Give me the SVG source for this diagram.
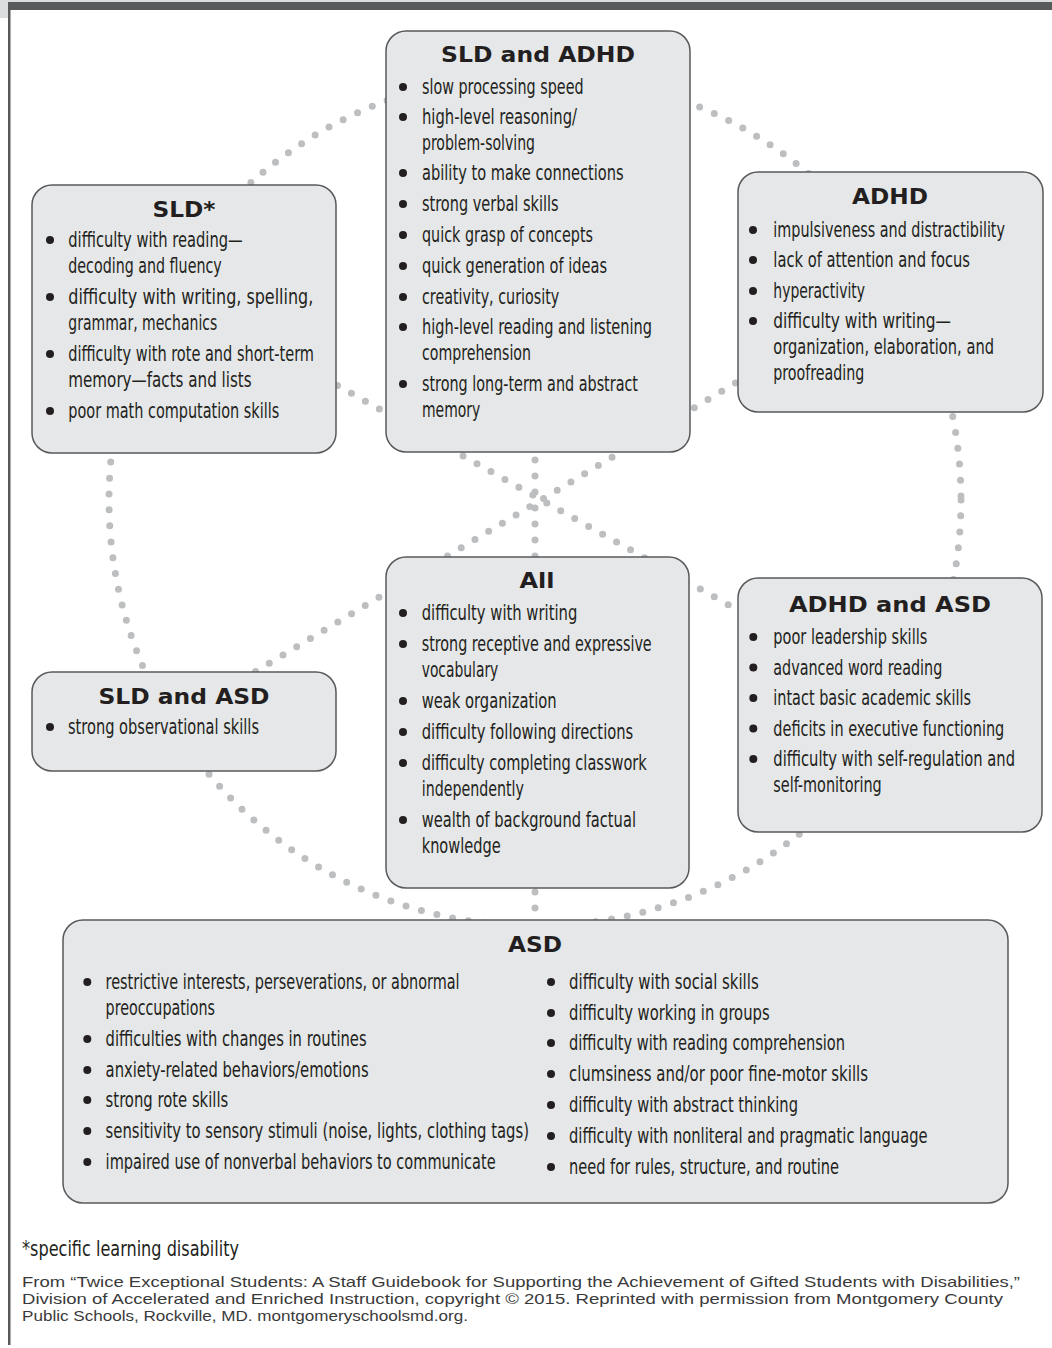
<svg xmlns="http://www.w3.org/2000/svg" width="1052" height="1348" viewBox="0 0 1052 1348">
<style>
.box{fill:#e6e7e8;stroke:#58595b;stroke-width:1.5}
.t{font-family:"DejaVu Sans","Liberation Sans",sans-serif;font-weight:bold;font-size:22px;fill:#231f20;text-anchor:middle}
.b{font-family:"Liberation Sans Narrow","DejaVu Sans Condensed","Liberation Sans",sans-serif;font-size:21px;fill:#231f20}
.bl{fill:#231f20}
.conn{fill:none;stroke:#bcbec0;stroke-width:7;stroke-linecap:round;stroke-dasharray:0 16}
.fn{font-family:"Liberation Sans","DejaVu Sans",sans-serif;font-size:15px;fill:#3a3a3a}
</style>
<rect width="1052" height="1348" fill="#ffffff"/>
<g id="frame">
<rect x="0" y="0" width="1052" height="2" fill="#dcdddf"/>
<rect x="0" y="0" width="8" height="18" fill="#dcdddf"/>
<rect x="8" y="2" width="1044" height="8" fill="#58595b"/>
<rect x="8" y="10" width="2.5" height="1335" fill="#58595b"/>
</g>
<g id="connectors">
<circle class="conn" cx="535" cy="500" r="426"/>
<path class="conn" d="M535 60 V940"/>
<path class="conn" d="M170 291.6 L900 701"/>
<path class="conn" d="M900 284 L170 723"/>
</g>
<g id="sld-adhd">
<rect class="box" x="386" y="31" width="304" height="421" rx="20"/>
<text class="t" x="538" y="62" textLength="194" lengthAdjust="spacingAndGlyphs">SLD and ADHD</text>
<g class="bl"><circle cx="403" cy="87" r="4"/><circle cx="403" cy="117" r="4"/><circle cx="403" cy="173" r="4"/><circle cx="403" cy="204" r="4"/><circle cx="403" cy="235" r="4"/><circle cx="403" cy="266" r="4"/><circle cx="403" cy="297" r="4"/><circle cx="403" cy="327" r="4"/><circle cx="403" cy="384" r="4"/></g>
<text class="b" x="422" y="94" textLength="161.6" lengthAdjust="spacingAndGlyphs">slow processing speed</text>
<text class="b" x="422" y="124" textLength="155" lengthAdjust="spacingAndGlyphs">high-level reasoning/</text>
<text class="b" x="422" y="150" textLength="113" lengthAdjust="spacingAndGlyphs">problem-solving</text>
<text class="b" x="422" y="180" textLength="201.6" lengthAdjust="spacingAndGlyphs">ability to make connections</text>
<text class="b" x="422" y="211" textLength="136.6" lengthAdjust="spacingAndGlyphs">strong verbal skills</text>
<text class="b" x="422" y="242" textLength="171" lengthAdjust="spacingAndGlyphs">quick grasp of concepts</text>
<text class="b" x="422" y="273" textLength="185" lengthAdjust="spacingAndGlyphs">quick generation of ideas</text>
<text class="b" x="422" y="304" textLength="137.3" lengthAdjust="spacingAndGlyphs">creativity, curiosity</text>
<text class="b" x="422" y="334" textLength="230" lengthAdjust="spacingAndGlyphs">high-level reading and listening</text>
<text class="b" x="422" y="360" textLength="109" lengthAdjust="spacingAndGlyphs">comprehension</text>
<text class="b" x="422" y="391" textLength="216" lengthAdjust="spacingAndGlyphs">strong long-term and abstract</text>
<text class="b" x="422" y="417" textLength="58.3" lengthAdjust="spacingAndGlyphs">memory</text>
</g>
<g id="sld">
<rect class="box" x="32" y="185" width="304" height="268" rx="20"/>
<text class="t" x="184" y="217" textLength="63" lengthAdjust="spacingAndGlyphs">SLD*</text>
<g class="bl"><circle cx="50" cy="240" r="4"/><circle cx="50" cy="297" r="4"/><circle cx="50" cy="354" r="4"/><circle cx="50" cy="411" r="4"/></g>
<text class="b" x="68.3" y="247" textLength="174.4" lengthAdjust="spacingAndGlyphs">difficulty with reading—</text>
<text class="b" x="68.3" y="273" textLength="153.4" lengthAdjust="spacingAndGlyphs">decoding and fluency</text>
<text class="b" x="68.3" y="304" textLength="245" lengthAdjust="spacingAndGlyphs">difficulty with writing, spelling,</text>
<text class="b" x="68.3" y="330" textLength="149" lengthAdjust="spacingAndGlyphs">grammar, mechanics</text>
<text class="b" x="68.3" y="361" textLength="245.7" lengthAdjust="spacingAndGlyphs">difficulty with rote and short-term</text>
<text class="b" x="68.3" y="387" textLength="183.4" lengthAdjust="spacingAndGlyphs">memory—facts and lists</text>
<text class="b" x="68.3" y="418" textLength="211" lengthAdjust="spacingAndGlyphs">poor math computation skills</text>
</g>
<g id="adhd">
<rect class="box" x="738" y="172" width="305" height="240" rx="20"/>
<text class="t" x="890" y="204" textLength="76" lengthAdjust="spacingAndGlyphs">ADHD</text>
<g class="bl"><circle cx="753" cy="230" r="4"/><circle cx="753" cy="260" r="4"/><circle cx="753" cy="291" r="4"/><circle cx="753" cy="321" r="4"/></g>
<text class="b" x="773.3" y="237" textLength="231.7" lengthAdjust="spacingAndGlyphs">impulsiveness and distractibility</text>
<text class="b" x="773.3" y="267" textLength="196.7" lengthAdjust="spacingAndGlyphs">lack of attention and focus</text>
<text class="b" x="773.3" y="298" textLength="91.7" lengthAdjust="spacingAndGlyphs">hyperactivity</text>
<text class="b" x="773.3" y="328" textLength="177.7" lengthAdjust="spacingAndGlyphs">difficulty with writing—</text>
<text class="b" x="773.3" y="354" textLength="220.7" lengthAdjust="spacingAndGlyphs">organization, elaboration, and</text>
<text class="b" x="773.3" y="380" textLength="91" lengthAdjust="spacingAndGlyphs">proofreading</text>
</g>
<g id="all">
<rect class="box" x="386" y="557" width="303" height="331" rx="20"/>
<text class="t" x="537" y="588" textLength="35" lengthAdjust="spacingAndGlyphs">All</text>
<g class="bl"><circle cx="403" cy="613" r="4"/><circle cx="403" cy="644" r="4"/><circle cx="403" cy="701" r="4"/><circle cx="403" cy="732" r="4"/><circle cx="403" cy="763" r="4"/><circle cx="403" cy="820" r="4"/></g>
<text class="b" x="421.7" y="620" textLength="155.6" lengthAdjust="spacingAndGlyphs">difficulty with writing</text>
<text class="b" x="421.7" y="651" textLength="230" lengthAdjust="spacingAndGlyphs">strong receptive and expressive</text>
<text class="b" x="421.7" y="677" textLength="76.6" lengthAdjust="spacingAndGlyphs">vocabulary</text>
<text class="b" x="421.7" y="708" textLength="135" lengthAdjust="spacingAndGlyphs">weak organization</text>
<text class="b" x="421.7" y="739" textLength="211.6" lengthAdjust="spacingAndGlyphs">difficulty following directions</text>
<text class="b" x="421.7" y="770" textLength="225" lengthAdjust="spacingAndGlyphs">difficulty completing classwork</text>
<text class="b" x="421.7" y="796" textLength="102.3" lengthAdjust="spacingAndGlyphs">independently</text>
<text class="b" x="421.7" y="827" textLength="214.3" lengthAdjust="spacingAndGlyphs">wealth of background factual</text>
<text class="b" x="421.7" y="853" textLength="79" lengthAdjust="spacingAndGlyphs">knowledge</text>
</g>
<g id="adhd-asd">
<rect class="box" x="738" y="578" width="304" height="254" rx="20"/>
<text class="t" x="890" y="612" textLength="202" lengthAdjust="spacingAndGlyphs">ADHD and ASD</text>
<g class="bl"><circle cx="753.3" cy="637" r="4"/><circle cx="753.3" cy="667.5" r="4"/><circle cx="753.3" cy="698" r="4"/><circle cx="753.3" cy="728.5" r="4"/><circle cx="753.3" cy="759" r="4"/></g>
<text class="b" x="773.3" y="644" textLength="154" lengthAdjust="spacingAndGlyphs">poor leadership skills</text>
<text class="b" x="773.3" y="674.5" textLength="169" lengthAdjust="spacingAndGlyphs">advanced word reading</text>
<text class="b" x="773.3" y="705" textLength="197.7" lengthAdjust="spacingAndGlyphs">intact basic academic skills</text>
<text class="b" x="773.3" y="735.5" textLength="231" lengthAdjust="spacingAndGlyphs">deficits in executive functioning</text>
<text class="b" x="773.3" y="766" textLength="241.7" lengthAdjust="spacingAndGlyphs">difficulty with self-regulation and</text>
<text class="b" x="773.3" y="792" textLength="108.4" lengthAdjust="spacingAndGlyphs">self-monitoring</text>
</g>
<g id="sld-asd">
<rect class="box" x="32" y="672" width="304" height="99" rx="20"/>
<text class="t" x="184" y="704" textLength="171" lengthAdjust="spacingAndGlyphs">SLD and ASD</text>
<circle class="bl" cx="50" cy="727" r="4"/>
<text class="b" x="68" y="734" textLength="191" lengthAdjust="spacingAndGlyphs">strong observational skills</text>
</g>
<g id="asd">
<rect class="box" x="63" y="920" width="945" height="283" rx="20"/>
<text class="t" x="535" y="952" textLength="54" lengthAdjust="spacingAndGlyphs">ASD</text>
<g class="bl"><circle cx="87.3" cy="982" r="4"/><circle cx="87.3" cy="1039" r="4"/><circle cx="87.3" cy="1070" r="4"/><circle cx="87.3" cy="1100" r="4"/><circle cx="87.3" cy="1131" r="4"/><circle cx="87.3" cy="1162" r="4"/>
<circle cx="551" cy="982" r="4"/><circle cx="551" cy="1013" r="4"/><circle cx="551" cy="1043" r="4"/><circle cx="551" cy="1074" r="4"/><circle cx="551" cy="1105" r="4"/><circle cx="551" cy="1136" r="4"/><circle cx="551" cy="1167" r="4"/></g>
<text class="b" x="105.6" y="989" textLength="354" lengthAdjust="spacingAndGlyphs">restrictive interests, perseverations, or abnormal</text>
<text class="b" x="105.6" y="1015" textLength="109.4" lengthAdjust="spacingAndGlyphs">preoccupations</text>
<text class="b" x="105.6" y="1046" textLength="261" lengthAdjust="spacingAndGlyphs">difficulties with changes in routines</text>
<text class="b" x="105.6" y="1077" textLength="263" lengthAdjust="spacingAndGlyphs">anxiety-related behaviors/emotions</text>
<text class="b" x="105.6" y="1107" textLength="122.7" lengthAdjust="spacingAndGlyphs">strong rote skills</text>
<text class="b" x="105.6" y="1138" textLength="423.4" lengthAdjust="spacingAndGlyphs">sensitivity to sensory stimuli (noise, lights, clothing tags)</text>
<text class="b" x="105.6" y="1169" textLength="390" lengthAdjust="spacingAndGlyphs">impaired use of nonverbal behaviors to communicate</text>
<text class="b" x="569" y="989" textLength="189.7" lengthAdjust="spacingAndGlyphs">difficulty with social skills</text>
<text class="b" x="569" y="1020" textLength="200.6" lengthAdjust="spacingAndGlyphs">difficulty working in groups</text>
<text class="b" x="569" y="1050" textLength="276" lengthAdjust="spacingAndGlyphs">difficulty with reading comprehension</text>
<text class="b" x="569" y="1081" textLength="299" lengthAdjust="spacingAndGlyphs">clumsiness and/or poor fine-motor skills</text>
<text class="b" x="569" y="1112" textLength="229" lengthAdjust="spacingAndGlyphs">difficulty with abstract thinking</text>
<text class="b" x="569" y="1143" textLength="358.5" lengthAdjust="spacingAndGlyphs">difficulty with nonliteral and pragmatic language</text>
<text class="b" x="569" y="1174" textLength="270" lengthAdjust="spacingAndGlyphs">need for rules, structure, and routine</text>
</g>
<g id="footnote">
<text class="b" x="22" y="1256" textLength="217" lengthAdjust="spacingAndGlyphs">*specific learning disability</text>
<text class="fn" x="22" y="1287" textLength="998" lengthAdjust="spacingAndGlyphs">From “Twice Exceptional Students: A Staff Guidebook for Supporting the Achievement of Gifted Students with Disabilities,”</text>
<text class="fn" x="22" y="1304" textLength="981" lengthAdjust="spacingAndGlyphs">Division of Accelerated and Enriched Instruction, copyright © 2015. Reprinted with permission from Montgomery County</text>
<text class="fn" x="22" y="1321" textLength="446" lengthAdjust="spacingAndGlyphs">Public Schools, Rockville, MD. montgomeryschoolsmd.org.</text>
</g>
</svg>
